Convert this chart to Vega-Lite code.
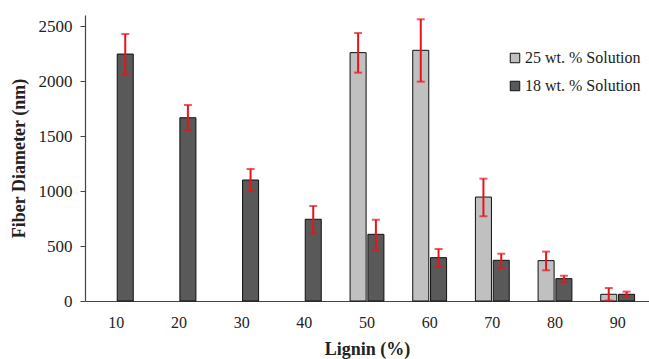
{
  "$schema": "https://vega.github.io/schema/vega-lite/v6.json",
  "width": 564,
  "height": 286,
  "autosize": {"type": "none"},
  "padding": {"left": 85, "top": 15, "right": 0, "bottom": 58},
  "background": "white",
  "config": {
    "view": {"stroke": null},
    "font": "Liberation Serif",
    "axis": {"grid": false, "domainColor": "#444", "tickColor": "#444", "labelColor": "#222", "titleColor": "#222"}
  },
  "data": {
    "values": [
      {"lignin": "10", "series": "18 wt. % Solution", "mean": 2245, "lo": 2055, "hi": 2427},
      {"lignin": "20", "series": "18 wt. % Solution", "mean": 1666, "lo": 1552, "hi": 1782},
      {"lignin": "30", "series": "18 wt. % Solution", "mean": 1100, "lo": 1000, "hi": 1200},
      {"lignin": "40", "series": "18 wt. % Solution", "mean": 743, "lo": 615, "hi": 864},
      {"lignin": "50", "series": "25 wt. % Solution", "mean": 2258, "lo": 2076, "hi": 2436},
      {"lignin": "50", "series": "18 wt. % Solution", "mean": 606, "lo": 464, "hi": 739},
      {"lignin": "60", "series": "25 wt. % Solution", "mean": 2279, "lo": 1994, "hi": 2561},
      {"lignin": "60", "series": "18 wt. % Solution", "mean": 394, "lo": 309, "hi": 473},
      {"lignin": "70", "series": "25 wt. % Solution", "mean": 945, "lo": 770, "hi": 1112},
      {"lignin": "70", "series": "18 wt. % Solution", "mean": 370, "lo": 300, "hi": 430},
      {"lignin": "80", "series": "25 wt. % Solution", "mean": 367, "lo": 279, "hi": 449},
      {"lignin": "80", "series": "18 wt. % Solution", "mean": 203, "lo": 173, "hi": 230},
      {"lignin": "90", "series": "25 wt. % Solution", "mean": 61, "lo": 4, "hi": 118},
      {"lignin": "90", "series": "18 wt. % Solution", "mean": 61, "lo": 45, "hi": 85}
    ]
  },
  "encoding": {
    "x": {
      "field": "lignin", "type": "nominal",
      "scale": {"domain": ["10","20","30","40","50","60","70","80","90"], "paddingInner": 0.46, "paddingOuter": 0.23},
      "axis": {"title": "Lignin (%)", "labelAngle": 0, "ticks": false, "labelFont": "Liberation Serif", "titleFont": "Liberation Serif", "labelFontSize": 16, "labelPadding": 13, "titleFontSize": 18, "titleFontWeight": "bold", "titlePadding": 10, "domainWidth": 1.2}
    },
    "xOffset": {
      "field": "series", "type": "nominal",
      "scale": {"domain": ["25 wt. % Solution", "18 wt. % Solution"], "paddingInner": 0.1}
    }
  },
  "layer": [
    {
      "mark": {"type": "bar", "stroke": "#111", "strokeWidth": 1},
      "encoding": {
        "y": {
          "field": "mean", "type": "quantitative",
          "scale": {"domain": [0, 2600], "nice": false},
          "axis": {"title": "Fiber Diameter (nm)", "format": "d", "values": [0, 500, 1000, 1500, 2000, 2500], "tickSize": 5, "labelFont": "Liberation Serif", "titleFont": "Liberation Serif", "labelFontSize": 17, "labelPadding": 8, "titleFontSize": 18, "titleFontWeight": "bold", "titlePadding": 10, "domainWidth": 1.2}
        },
        "fill": {
          "field": "series", "type": "nominal",
          "scale": {"domain": ["25 wt. % Solution", "18 wt. % Solution"], "range": ["#c0c0c0", "#595959"]},
          "legend": {"title": null, "orient": "none", "legendX": 422, "legendY": 35, "symbolType": "square", "symbolSize": 90, "symbolStrokeColor": "#111", "symbolStrokeWidth": 1, "labelFont": "Liberation Serif", "labelFontSize": 16, "labelOffset": 2, "rowPadding": 12, "labelColor": "#222"}
        }
      }
    },
    {
      "mark": {"type": "rule", "color": "#e8141b", "strokeWidth": 2},
      "encoding": {
        "y": {"field": "lo", "type": "quantitative"},
        "y2": {"field": "hi"}
      }
    },
    {
      "mark": {"type": "tick", "color": "#e8141b", "thickness": 2, "size": 8},
      "encoding": {"y": {"field": "lo", "type": "quantitative"}}
    },
    {
      "mark": {"type": "tick", "color": "#e8141b", "thickness": 2, "size": 8},
      "encoding": {"y": {"field": "hi", "type": "quantitative"}}
    }
  ]
}
